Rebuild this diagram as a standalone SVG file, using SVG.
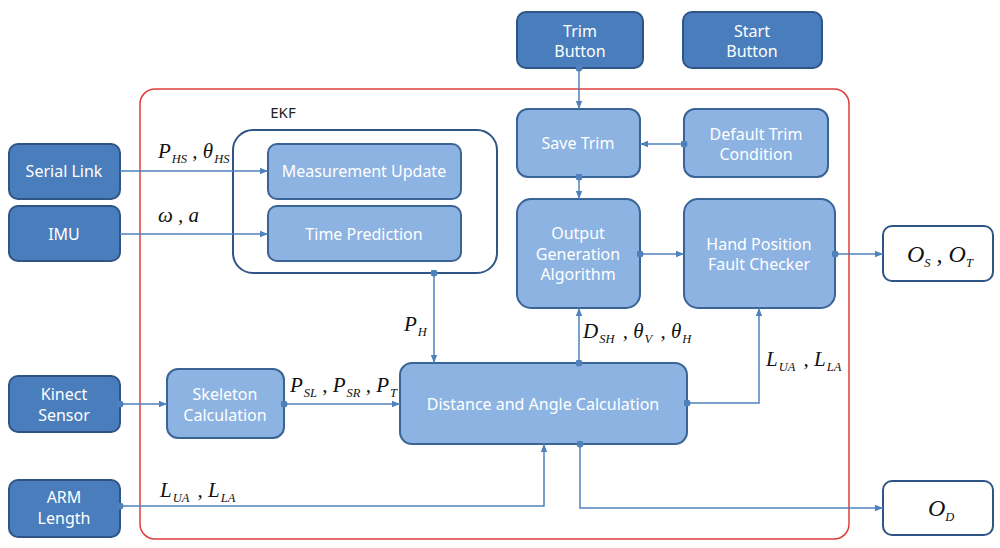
<svg xmlns="http://www.w3.org/2000/svg" width="1000" height="548" viewBox="0 0 1000 548">
<defs>
<marker id="arr" viewBox="0 0 10 10" refX="10" refY="5" markerWidth="8" markerHeight="8" markerUnits="userSpaceOnUse" orient="auto">
<path d="M0,1 L10,5 L0,9 z" fill="#4f81bd"/>
</marker>
<marker id="dot" viewBox="0 0 10 10" refX="5" refY="5" markerWidth="7" markerHeight="7" markerUnits="userSpaceOnUse">
<circle cx="5" cy="5" r="5" fill="#4f81bd"/>
</marker>
<style>
.dark{fill:#4a7dbb;stroke:#2f5486;stroke-width:2}
.light{fill:#8db3e2;stroke:#3a6396;stroke-width:2}
.out{fill:#fff;stroke:#2f5486;stroke-width:2}
.t{font-family:"Noto Sans","Open Sans","Liberation Sans",sans-serif;font-size:16px;fill:#fff;text-anchor:middle}
.lbl{font-family:"Noto Sans","Open Sans","Liberation Sans",sans-serif;font-size:15px;fill:#222;text-anchor:middle}
.m{font-family:"Liberation Serif","Times New Roman",serif;font-style:italic;font-size:21px;fill:#111}
.s{font-size:12.5px}
.c{fill:none;stroke:#4f81bd;stroke-width:1.5}
.ca{fill:none;stroke:#4f81bd;stroke-width:1.5;marker-end:url(#arr)}
.cd{fill:none;stroke:#4f81bd;stroke-width:1.5;marker-start:url(#dot);marker-end:url(#arr)}
</style>
</defs>
<rect x="140" y="89" width="709" height="450" rx="15" fill="none" stroke="#e03c3c" stroke-width="1.5"/>
<g id="ekf">
<rect x="233" y="130" width="264" height="143" rx="20" fill="none" stroke="#2f5486" stroke-width="2"/>
<text class="lbl" x="283" y="118">EKF</text>
</g>
<g id="serial-link"><rect class="dark" x="9" y="144" width="111" height="55" rx="9"/><text class="t" x="64" y="177">Serial Link</text></g>
<g id="imu"><rect class="dark" x="9" y="206" width="111" height="55" rx="9"/><text class="t" x="64" y="240">IMU</text></g>
<g id="kinect"><rect class="dark" x="9" y="376" width="111" height="56" rx="9"/><text class="t" x="64" y="400">Kinect</text><text class="t" x="64" y="421">Sensor</text></g>
<g id="arm"><rect class="dark" x="9" y="480" width="111" height="57" rx="9"/><text class="t" x="64" y="503">ARM</text><text class="t" x="64" y="524">Length</text></g>
<g id="trim-button"><rect class="dark" x="517" y="12" width="126" height="56" rx="9"/><text class="t" x="580" y="37">Trim</text><text class="t" x="580" y="57">Button</text></g>
<g id="start-button"><rect class="dark" x="683" y="12" width="139" height="56" rx="9"/><text class="t" x="752" y="37">Start</text><text class="t" x="752" y="57">Button</text></g>
<g id="measurement-update"><rect class="light" x="268" y="144" width="193" height="55" rx="9"/><text class="t" x="364" y="177">Measurement Update</text></g>
<g id="time-prediction"><rect class="light" x="268" y="206" width="193" height="55" rx="9"/><text class="t" x="364" y="240">Time Prediction</text></g>
<g id="save-trim"><rect class="light" x="517" y="109" width="123" height="68" rx="11"/><text class="t" x="578" y="149">Save Trim</text></g>
<g id="default-trim"><rect class="light" x="684" y="109" width="144" height="68" rx="11"/><text class="t" x="756" y="140">Default Trim</text><text class="t" x="756" y="160">Condition</text></g>
<g id="output-gen"><rect class="light" x="517" y="199" width="123" height="109" rx="14"/><text class="t" x="578" y="239">Output</text><text class="t" x="578" y="260">Generation</text><text class="t" x="578" y="280">Algorithm</text></g>
<g id="hand-checker"><rect class="light" x="684" y="199" width="151" height="109" rx="14"/><text class="t" x="759" y="250">Hand Position</text><text class="t" x="759" y="270">Fault Checker</text></g>
<g id="skeleton"><rect class="light" x="167" y="369" width="117" height="69" rx="11"/><text class="t" x="225" y="400">Skeleton</text><text class="t" x="225" y="421">Calculation</text></g>
<g id="distance"><rect class="light" x="400" y="363" width="287" height="81" rx="12"/><text class="t" x="543" y="410">Distance and Angle Calculation</text></g>
<g id="os-ot"><rect class="out" x="883" y="226" width="110" height="55" rx="9"/><text class="m" x="907" y="262" style="font-size:24px">O<tspan class="s" dy="5">S</tspan><tspan dy="-5"> , O</tspan><tspan class="s" dy="5">T</tspan></text></g>
<g id="od"><rect class="out" x="883" y="481" width="110" height="54" rx="9"/><text class="m" x="928" y="516" style="font-size:24px">O<tspan class="s" dy="5">D</tspan></text></g>
<g id="connectors">
<path class="ca" d="M120,171 H268"/>
<path class="ca" d="M120,234 H268"/>
<path class="cd" d="M434,273 V363"/>
<path class="cd" d="M579,68 V109"/>
<path class="cd" d="M684,144 H640"/>
<path class="cd" d="M579,177 V199"/>
<path class="cd" d="M640,254 H684"/>
<path class="cd" d="M835,254 H883"/>
<path class="cd" d="M120,404 H167"/>
<path class="cd" d="M284,404 H400"/>
<path class="cd" d="M579,363 V308"/>
<path class="cd" d="M687,403 H759 V308"/>
<path class="cd" d="M120,506 H544 V444"/>
<path class="cd" d="M580,444 V508 H883"/>
</g>
<g id="labels">
<text class="m" x="158" y="158">P<tspan class="s" dy="5" dx="1">HS</tspan><tspan dy="-5"> , θ</tspan><tspan class="s" dy="5" dx="1">HS</tspan></text>
<text class="m" x="158" y="222">ω , a</text>
<text class="m" x="404" y="331">P<tspan class="s" dy="5" dx="1">H</tspan></text>
<text class="m" x="290" y="392">P<tspan class="s" dy="5" dx="1">SL</tspan><tspan dy="-5"> , P</tspan><tspan class="s" dy="5" dx="1">SR</tspan><tspan dy="-5"> , P</tspan><tspan class="s" dy="5" dx="1">T</tspan></text>
<text class="m" x="583" y="338">D<tspan class="s" dy="5" dx="1">SH</tspan><tspan dy="-5" dx="3"> , θ</tspan><tspan class="s" dy="5" dx="1">V</tspan><tspan dy="-5" dx="3"> , θ</tspan><tspan class="s" dy="5" dx="1">H</tspan></text>
<text class="m" x="766" y="366">L<tspan class="s" dy="5" dx="1">UA</tspan><tspan dy="-5" dx="3"> , L</tspan><tspan class="s" dy="5" dx="1">LA</tspan></text>
<text class="m" x="160" y="497">L<tspan class="s" dy="5" dx="1">UA</tspan><tspan dy="-5" dx="3"> , L</tspan><tspan class="s" dy="5" dx="1">LA</tspan></text>
</g>
</svg>
